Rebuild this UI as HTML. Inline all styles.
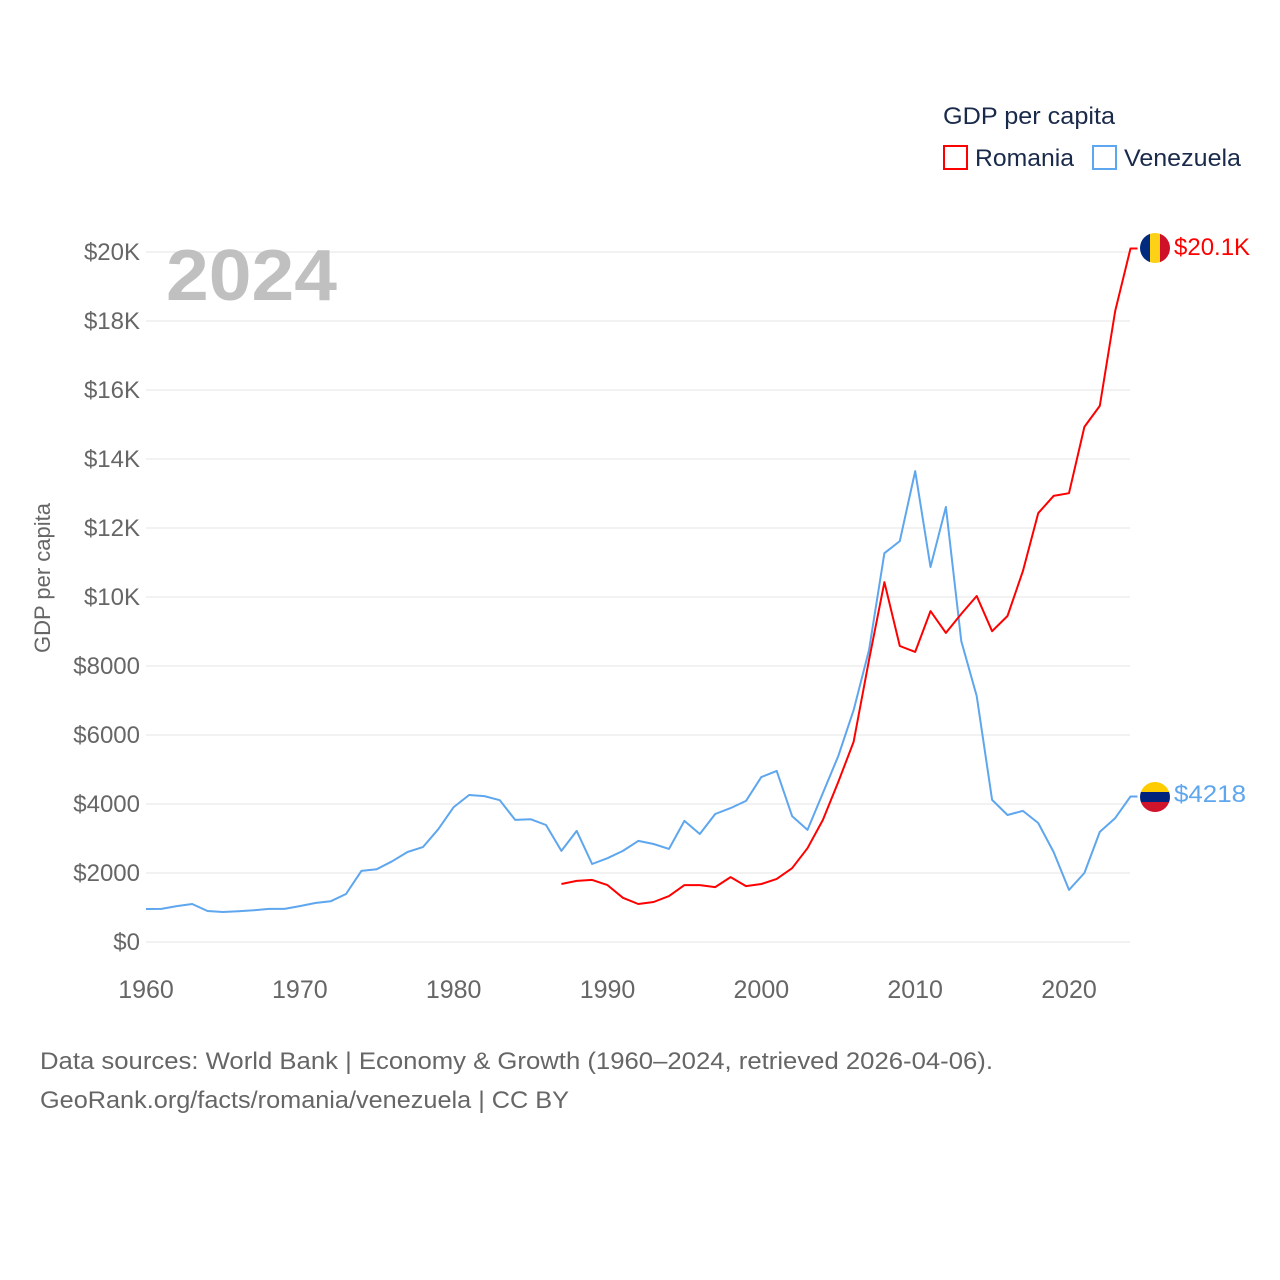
<!DOCTYPE html>
<html><head><meta charset="utf-8"><style>
body{margin:0;background:#fff;font-family:"Liberation Sans",sans-serif}
svg{display:block}
</style></head><body>
<svg id="c" width="1280" height="1280">
<rect width="1280" height="1280" fill="#fff"/>
<g id="grid"></g>
<g id="yt"></g>
<g id="xt"></g>
<text x="166" y="300" font-size="72" font-weight="bold" fill="#c0c0c0" textLength="171" lengthAdjust="spacingAndGlyphs">2024</text>
<text transform="translate(50,578) rotate(-90)" text-anchor="middle" font-size="22" fill="#666">GDP per capita</text>
<g id="series"></g>
<g>
<text x="943" y="124" font-size="24" fill="#1a2a4a" textLength="172" lengthAdjust="spacingAndGlyphs">GDP per capita</text>
<g><rect x="944" y="146" width="23" height="23" fill="none" stroke="#f00" stroke-width="2"/><text x="975" y="166" font-size="24" fill="#1a2a4a" textLength="99" lengthAdjust="spacingAndGlyphs">Romania</text></g>
<g><rect x="1093" y="146" width="23" height="23" fill="none" stroke="#5ea6ee" stroke-width="2"/><text x="1124" y="166" font-size="24" fill="#1a2a4a" textLength="117" lengthAdjust="spacingAndGlyphs">Venezuela</text></g>
</g>
<g><clipPath id="cr"><circle cx="1155" cy="248" r="15"/></clipPath><g clip-path="url(#cr)"><rect x="1140" y="233" width="10" height="30" fill="#002b7f"/><rect x="1150" y="233" width="10" height="30" fill="#fcd116"/><rect x="1160" y="233" width="10" height="30" fill="#ce1126"/></g></g>
<text x="1174" y="255" font-size="24" fill="#f00">$20.1K</text>
<g><clipPath id="cv"><circle cx="1155" cy="797" r="15"/></clipPath><g clip-path="url(#cv)"><rect x="1140" y="782" width="30" height="10" fill="#ffcc00"/><rect x="1140" y="792" width="30" height="10" fill="#00247d"/><rect x="1140" y="802" width="30" height="10" fill="#cf142b"/></g></g>
<text x="1174" y="802" font-size="24" fill="#5ea6ee" textLength="72" lengthAdjust="spacingAndGlyphs">$4218</text>
<text x="40" y="1069" font-size="24" fill="#666" textLength="953" lengthAdjust="spacingAndGlyphs">Data sources: World Bank | Economy &amp; Growth (1960–2024, retrieved 2026-04-06).</text>
<text x="40" y="1108" font-size="24" fill="#666" textLength="529" lengthAdjust="spacingAndGlyphs">GeoRank.org/facts/romania/venezuela | CC BY</text>
</svg>
<script>
const yTicks=[0,2000,4000,6000,8000,10000,12000,14000,16000,18000,20000];
const yTickLabels=["$0","$2000","$4000","$6000","$8000","$10K","$12K","$14K","$16K","$18K","$20K"];
const xTicks=[1960,1970,1980,1990,2000,2010,2020];
const venStart=1960;
const venezuela=[957,960,1040,1100,900,870,890,920,960,960,1040,1130,1180,1390,2060,2110,2340,2610,2750,3270,3910,4260,4230,4110,3540,3560,3390,2640,3220,2260,2430,2640,2930,2840,2700,3510,3130,3710,3880,4090,4780,4960,3650,3250,4320,5390,6720,8460,11270,11620,13650,10870,12610,8720,7130,4120,3680,3800,3450,2610,1510,2000,3190,3590,4218];
const romStart=1987;
const romania=[1680,1770,1800,1650,1280,1100,1160,1330,1650,1650,1590,1880,1620,1680,1830,2140,2720,3540,4640,5800,8170,10430,8580,8410,9590,8960,9510,10030,9010,9450,10750,12430,12930,13010,14930,15540,18290,20100];
const NS='http://www.w3.org/2000/svg';
const x=yr=>146+(yr-1960)*(1069-146)/60;
const y=v=>942-v*(942-252)/20000;
function mk(t,a,p){const e=document.createElementNS(NS,t);for(const k in a)e.setAttribute(k,a[k]);p.appendChild(e);return e;}
const grid=document.getElementById('grid'),yt=document.getElementById('yt'),xt=document.getElementById('xt'),S=document.getElementById('series');
yTicks.forEach((v,i)=>{
 const l=mk('line',{x1:146,x2:1130,y1:y(v),y2:y(v),stroke:'#e6e6e6','stroke-width':1},grid);
 
 
 const t=mk('text',{x:140,y:y(v)+8,'text-anchor':'end','font-size':24,fill:'#666'},yt);
 t.textContent=yTickLabels[i];
 
 
});
xTicks.forEach(v=>{
 const t=mk('text',{x:x(v),y:998,'text-anchor':'middle','font-size':25,fill:'#666'},xt);
 t.textContent=v;
 
 
});
function line(arr,start,col,name){
 let d=arr.map((v,i)=>(i?'L':'M')+x(start+i).toFixed(1)+','+y(v).toFixed(1)).join('');
 d+='h7';
 const p=mk('path',{d:d,fill:'none',stroke:col,'stroke-width':2,'stroke-linejoin':'round'},S);
 
 
}
line(venezuela,venStart,'#5ea6ee','line-venezuela');
line(romania,romStart,'#f00','line-romania');
</script>
</body></html>
